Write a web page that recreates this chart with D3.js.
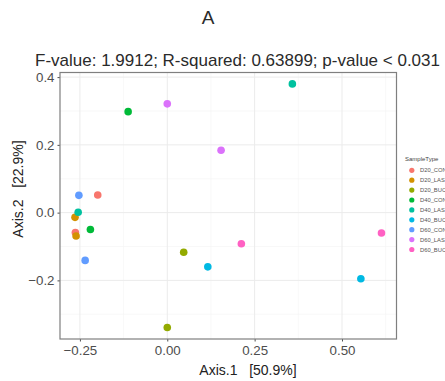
<!DOCTYPE html>
<html>
<head>
<meta charset="UTF-8">
<script src="https://d3js.org/d3.v7.min.js"></script>
<style>
  body { margin: 0; background: #fff; font-family: "Liberation Sans", Arial, sans-serif; }
  text { white-space: pre; }
</style>
</head>
<body>
<svg id="chart" width="445" height="381"></svg>
<script>
// sample groups and their colours (ggplot hue palette)
const groups = ["D20_CON", "D20_LAS", "D20_BUC", "D40_CON", "D40_LAS", "D40_BUC", "D60_CON", "D60_LAS", "D60_BUC"];
const groupColors = ["#F8766D", "#D39200", "#93AA00", "#00BA38", "#00C19F", "#00B9E3", "#619CFF", "#DB72FB", "#FF61C3"];

// PCoA coordinates: two samples per group
const sampleGroup = ["D20_CON", "D20_CON", "D20_LAS", "D20_LAS", "D20_BUC", "D20_BUC",
                     "D40_CON", "D40_CON", "D40_LAS", "D40_LAS", "D40_BUC", "D40_BUC",
                     "D60_CON", "D60_CON", "D60_LAS", "D60_LAS", "D60_BUC", "D60_BUC"];
const axis1 = [-0.199, -0.263, -0.264, -0.261, 0.047, 0.000,
               -0.112, -0.220, 0.358, -0.255, 0.116, 0.554,
               -0.253, -0.235, 0.000, 0.154, 0.212, 0.613];
const axis2 = [0.052, -0.059, -0.014, -0.069, -0.117, -0.339,
               0.298, -0.050, 0.380, 0.001, -0.160, -0.195,
               0.051, -0.141, 0.321, 0.184, -0.092, -0.060];

const xTicks = [-0.25, 0, 0.25, 0.5];
const yTicks = [-0.2, 0, 0.2, 0.4];
const xMinor = [-0.125, 0.125, 0.375, 0.625];
const yMinor = [-0.3, -0.1, 0.1, 0.3];

const title = "A";
const subtitle = "F-value: 1.9912; R-squared: 0.63899; p-value < 0.031";
const xLabel = "Axis.1   [50.9%]";
const yLabel = "Axis.2   [22.9%]";
const legendTitle = "SampleType";

const svg = d3.select("#chart");
const pLeft = 60, pRight = 396.5, pTop = 72.5, pBottom = 339;

const x = d3.scaleLinear().domain([-0.307, 0.656]).range([pLeft, pRight]);
const y = d3.scaleLinear().domain([-0.373, 0.4136]).range([pBottom, pTop]);
const color = d3.scaleOrdinal().domain(groups).range(groupColors);

// grid
const grid = svg.append("g");
grid.selectAll(".vminor").data(xMinor).enter().append("line")
  .attr("x1", d => x(d)).attr("x2", d => x(d)).attr("y1", pTop).attr("y2", pBottom)
  .attr("stroke", "#F3F3F3").attr("stroke-width", 0.6);
grid.selectAll(".hminor").data(yMinor).enter().append("line")
  .attr("y1", d => y(d)).attr("y2", d => y(d)).attr("x1", pLeft).attr("x2", pRight)
  .attr("stroke", "#F3F3F3").attr("stroke-width", 0.6);
grid.selectAll(".vmajor").data(xTicks).enter().append("line")
  .attr("x1", d => x(d)).attr("x2", d => x(d)).attr("y1", pTop).attr("y2", pBottom)
  .attr("stroke", "#EBEBEB").attr("stroke-width", 1);
grid.selectAll(".hmajor").data(yTicks).enter().append("line")
  .attr("y1", d => y(d)).attr("y2", d => y(d)).attr("x1", pLeft).attr("x2", pRight)
  .attr("stroke", "#EBEBEB").attr("stroke-width", 1);

// axes
const xAxis = svg.append("g").attr("transform", `translate(0,${pBottom})`)
  .call(d3.axisBottom(x).tickValues(xTicks).tickFormat(d3.format(".2f")).tickSizeOuter(0).tickSize(2.5).tickPadding(4));
const yAxis = svg.append("g").attr("transform", `translate(${pLeft},0)`)
  .call(d3.axisLeft(y).tickValues(yTicks).tickFormat(d3.format(".1f")).tickSizeOuter(0).tickSize(2.5).tickPadding(3));
[xAxis, yAxis].forEach(a => {
  a.select(".domain").remove();
  a.selectAll("line").attr("stroke", "#4D4D4D");
  a.selectAll("text").attr("fill", "#4D4D4D").style("font-size", "13.3px")
    .style("font-family", "Liberation Sans, Arial, sans-serif");
});

// panel border
svg.append("rect").attr("x", pLeft).attr("y", pTop)
  .attr("width", pRight - pLeft).attr("height", pBottom - pTop)
  .attr("fill", "none").attr("stroke", "#7F7F7F").attr("stroke-width", 1.2);

// points
svg.append("g").selectAll("circle")
  .data(axis1.map((v, i) => ({ a1: v, a2: axis2[i], g: sampleGroup[i] })))
  .enter().append("circle")
  .attr("cx", d => x(d.a1)).attr("cy", d => y(d.a2)).attr("r", 3.8)
  .attr("fill", d => color(d.g));

// titles
svg.append("text").attr("x", 208).attr("y", 24).attr("text-anchor", "middle")
  .style("font-size", "19px").attr("fill", "#2a2a2a").text(title);
svg.append("text").attr("x", 237.5).attr("y", 66).attr("text-anchor", "middle")
  .style("font-size", "17px").attr("fill", "#2a2a2a").text(subtitle);
svg.append("text").attr("x", 248).attr("y", 375).attr("text-anchor", "middle")
  .style("font-size", "14px").attr("fill", "#222").text(xLabel);
svg.append("text").attr("transform", "translate(23,189) rotate(-90)").attr("text-anchor", "middle")
  .style("font-size", "14px").attr("fill", "#222").text(yLabel);

// legend (cut off at the right edge, as in the original figure)
const legend = svg.append("g");
legend.append("text").attr("x", 405).attr("y", 161)
  .style("font-size", "6px").attr("fill", "#444").text(legendTitle);
const items = legend.selectAll(".item").data(groups).enter().append("g")
  .attr("transform", (d, i) => `translate(0,${170.3 + i * 9.9})`);
items.append("circle").attr("cx", 411.8).attr("cy", 0).attr("r", 2.6).attr("fill", d => color(d));
items.append("text").attr("x", 420).attr("y", 2).style("font-size", "5.8px")
  .attr("fill", "#555").text(d => d);
</script>
</body>
</html>
